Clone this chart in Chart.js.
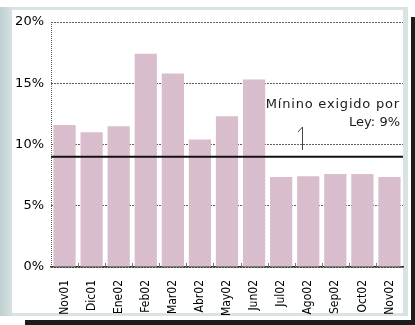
<!DOCTYPE html>
<html>
<head>
<meta charset="utf-8">
<script src="https://cdn.jsdelivr.net/npm/chart.js@4/dist/chart.umd.min.js"></script>
<style>
  html, body { margin: 0; padding: 0; background: #ffffff; }
  #wrap { position: relative; width: 415px; height: 325px; }
</style>
</head>
<body>
<div id="wrap"><canvas id="c"></canvas></div>
<script>
// Monthly ratio, Nov 2001 - Nov 2002 (%)
const months = ['Nov01', 'Dic01', 'Ene02', 'Feb02', 'Mar02', 'Abr02', 'May02',
                'Jun02', 'Jul02', 'Ago02', 'Sep02', 'Oct02', 'Nov02'];
const ratio = [11.6, 11.0, 11.5, 17.4, 15.8, 10.4, 12.3, 15.3, 7.35, 7.4, 7.6, 7.6, 7.35];
const yTicks = [0, 5, 10, 15, 20];
const legalMinimum = 9;
const noteLines = ['Mínino exigido por', 'Ley: 9%'];

// Speckled mauve fill for the bars
function barPattern() {
  const p = document.createElement('canvas');
  p.width = 4; p.height = 4;
  const g = p.getContext('2d');
  g.fillStyle = '#dabcca';
  g.fillRect(0, 0, 4, 4);
  g.fillStyle = '#c6bdd6';
  g.fillRect(0, 0, 1, 1);
  g.fillRect(2, 2, 1, 1);
  g.fillStyle = '#e2c3cf';
  g.fillRect(2, 0, 1, 1);
  g.fillRect(0, 2, 1, 1);
  return g.createPattern(p, 'repeat');
}

// Panel frame with drop shadow behind the plot
const framePlugin = {
  id: 'frame',
  beforeDraw(chart) {
    const ctx = chart.ctx;
    ctx.save();
    ctx.fillStyle = '#1c1c1c';
    ctx.fillRect(411, 17, 4, 308);
    ctx.fillRect(25, 320, 390, 5);
    const grad = ctx.createLinearGradient(0, 0, 14, 0);
    grad.addColorStop(0, '#bfd0d1');
    grad.addColorStop(1, '#d9e3e4');
    ctx.fillStyle = grad;
    ctx.fillRect(0, 7, 408, 309);
    ctx.fillStyle = '#d9e3e4';
    ctx.fillRect(14, 7, 394, 309);
    ctx.fillStyle = '#ffffff';
    ctx.fillRect(12, 10, 391, 303);
    ctx.restore();
  }
};

// Dotted value axis, small category ticks, legal-minimum line and its note
const overlayPlugin = {
  id: 'overlay',
  beforeDatasetsDraw(chart) {
    const { ctx, chartArea: a, scales: { x } } = chart;
    ctx.save();
    ctx.strokeStyle = '#5a5a5a';
    ctx.lineWidth = 1;
    ctx.setLineDash([1, 1]);
    ctx.beginPath();
    ctx.moveTo(a.left + 0.5, a.top);
    ctx.lineTo(a.left + 0.5, a.bottom);
    ctx.stroke();
    ctx.setLineDash([]);
    ctx.strokeStyle = '#777';
    const half = (x.getPixelForValue(1) - x.getPixelForValue(0)) / 2;
    for (let i = 1; i < months.length; i++) {
      const px = Math.round(x.getPixelForValue(i) - half) + 0.5;
      ctx.beginPath();
      ctx.moveTo(px, a.bottom - 4);
      ctx.lineTo(px, a.bottom);
      ctx.stroke();
    }
    ctx.restore();
  },
  afterDatasetsDraw(chart) {
    const { ctx, chartArea: a, scales: { y } } = chart;
    const yl = y.getPixelForValue(legalMinimum);
    ctx.save();
    ctx.strokeStyle = '#111';
    ctx.lineWidth = 2;
    ctx.beginPath();
    ctx.moveTo(a.left, yl);
    ctx.lineTo(a.right, yl);
    ctx.stroke();

    ctx.fillStyle = '#1a1a1a';
    ctx.font = '13px "DejaVu Sans"';
    ctx.textAlign = 'right';
    ctx.textBaseline = 'middle';
    ctx.letterSpacing = '0.8px';
    ctx.fillText(noteLines[0], 400, 105, 136);
    ctx.letterSpacing = '0px';
    ctx.fillText(noteLines[1], 400, 123);

    ctx.strokeStyle = '#444';
    ctx.lineWidth = 1;
    ctx.beginPath();
    ctx.moveTo(298, 132);
    ctx.lineTo(302.5, 127);
    ctx.lineTo(302.5, 150);
    ctx.stroke();
    ctx.restore();
  }
};

new Chart(document.getElementById('c'), {
  type: 'bar',
  data: {
    labels: months,
    datasets: [{
      data: ratio,
      backgroundColor: barPattern(),
      borderWidth: 0,
      barPercentage: 0.82,
      categoryPercentage: 1.0
    }]
  },
  options: {
    responsive: true,
    maintainAspectRatio: false,
    animation: false,
    devicePixelRatio: 1,
    layout: { padding: { left: 0, right: 12, top: 22, bottom: 0 } },
    plugins: { legend: { display: false }, tooltip: { enabled: false } },
    scales: {
      x: {
        grid: { display: false },
        border: { display: true, color: '#333', width: 1.5 },
        ticks: {
          minRotation: 90, maxRotation: 90, padding: 5,
          color: '#000',
          font: { family: "'DejaVu Sans Condensed', 'DejaVu Sans'", size: 12 }
        },
        afterFit(s) { s.height = 58; }
      },
      y: {
        min: 0, max: 20,
        afterBuildTicks(s) { s.ticks = yTicks.map(v => ({ value: v })); },
        grid: { color: '#5f5f5f', lineWidth: 1, drawTicks: false },
        border: { display: false, dash: [2, 1] },
        ticks: {
          padding: 7,
          color: '#000',
          font: { family: 'DejaVu Sans', size: 13 },
          callback: v => v + '%'
        },
        afterFit(s) { s.width = 51; }
      }
    }
  },
  plugins: [framePlugin, overlayPlugin]
});
</script>
</body>
</html>
